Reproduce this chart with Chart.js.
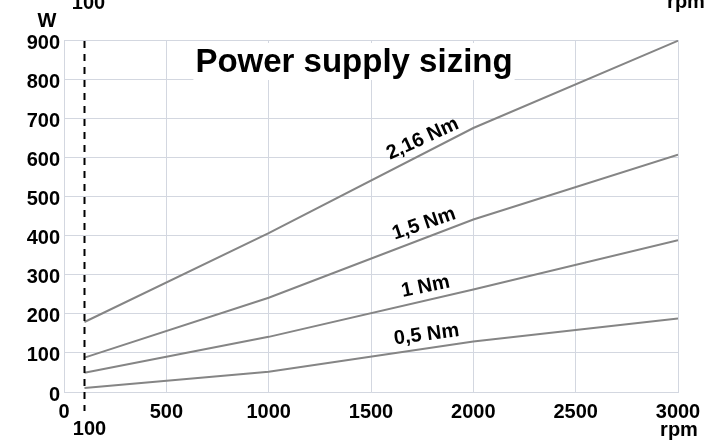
<!DOCTYPE html>
<html>
<head>
<meta charset="utf-8">
<script src="https://cdn.jsdelivr.net/npm/chart.js@4/dist/chart.umd.min.js"></script>
<style>
  html, body { margin: 0; padding: 0; background: #fff; }
  #wrap { width: 706px; height: 440px; position: relative; }
</style>
</head>
<body>
<div id="wrap"><canvas id="myChart" width="706" height="440"></canvas></div>
<script>
// speed points (rpm) shared by every curve
const speeds = [100, 1000, 2000, 3000];
// power (W)
const p216 = [179, 406, 675, 898];
const p15 = [88, 241, 441, 607];
const p1 = [49, 141, 262, 388];
const p05 = [10, 52, 129, 188];
const curveNames = ['2,16 Nm', '1,5 Nm', '1 Nm', '0,5 Nm'];
const xTicks = [0, 500, 1000, 1500, 2000, 2500, 3000];
const yTicks = [0, 100, 200, 300, 400, 500, 600, 700, 800, 900];
const minSpeed = 100;

const FONT = 'Liberation Sans, Arial, sans-serif';
const lineColor = '#858585';
const gridColor = '#d3d7e0';

function pts(vals) {
  return speeds.map((s, i) => ({ x: s, y: vals[i] }));
}

const series = [p216, p15, p1, p05];

// text, dashed line and curve labels
const decorations = {
  id: 'decorations',
  afterDatasetsDraw(chart) {
    const ctx = chart.ctx;
    const xs = chart.scales.x;
    const ys = chart.scales.y;
    const area = chart.chartArea;
    ctx.save();

    // dashed line at minimum speed
    const dx = Math.round(xs.getPixelForValue(minSpeed)) + 0.5;
    ctx.strokeStyle = '#000';
    ctx.lineWidth = 2;
    ctx.setLineDash([7, 6]);
    ctx.beginPath();
    ctx.moveTo(dx, area.top + 1);
    ctx.lineTo(dx, area.bottom + 19);
    ctx.stroke();
    ctx.setLineDash([]);

    ctx.fillStyle = '#000';
    ctx.font = 'bold 20px ' + FONT;
    ctx.textAlign = 'center';
    ctx.textBaseline = 'alphabetic';
    ctx.fillText('100', dx + 5, 435);
    ctx.fillText('100', dx + 4, 9);
    ctx.fillText('rpm', xs.getPixelForValue(3000) + 1, 436);
    ctx.fillText('rpm', 686, 8);
    ctx.fillText('W', 47, 27);

    // title with white box behind
    ctx.font = 'bold 33px ' + FONT;
    const title = 'Power supply sizing';
    const tw = ctx.measureText(title).width;
    const cx = 354;
    ctx.fillStyle = '#fff';
    ctx.fillRect(cx - tw / 2 - 2, area.top + 3, tw + 4, 37);
    ctx.fillStyle = '#000';
    ctx.fillText(title, cx, 72);

    // curve labels along each line
    ctx.font = 'bold 20px ' + FONT;
    const at = 1780;
    series.forEach((vals, k) => {
      const x1 = xs.getPixelForValue(speeds[1]), y1 = ys.getPixelForValue(vals[1]);
      const x2 = xs.getPixelForValue(speeds[2]), y2 = ys.getPixelForValue(vals[2]);
      const ang = Math.atan2(y2 - y1, x2 - x1) * 0.9;
      const px = xs.getPixelForValue(at);
      const py = y1 + (y2 - y1) * (px - x1) / (x2 - x1);
      ctx.save();
      ctx.translate(px, py);
      ctx.rotate(ang);
      ctx.fillText(curveNames[k], 0, -8);
      ctx.restore();
    });
    ctx.restore();
  }
};

new Chart(document.getElementById('myChart'), {
  type: 'line',
  data: {
    datasets: series.map((vals, k) => ({
      label: curveNames[k],
      data: pts(vals),
      borderColor: lineColor,
      borderWidth: 2,
      pointRadius: 0,
      tension: 0,
      fill: false
    }))
  },
  options: {
    responsive: false,
    animation: false,
    layout: { padding: { left: 0, right: 28, top: 40, bottom: 0 } },
    plugins: { legend: { display: false }, tooltip: { enabled: false } },
    scales: {
      x: {
        type: 'linear',
        min: 0,
        max: 3000,
        afterBuildTicks: s => { s.ticks = xTicks.map(v => ({ value: v })); },
        afterFit: s => { s.height = 48; s.paddingLeft = 0; s.paddingRight = 0; },
        grid: { color: gridColor, drawTicks: false },
        border: { color: gridColor },
        ticks: {
          padding: 8,
          color: '#000',
          maxRotation: 0,
          callback: v => String(v),
          font: { family: FONT, size: 20, weight: 'bold' }
        }
      },
      y: {
        min: 0,
        max: 900,
        afterBuildTicks: s => { s.ticks = yTicks.map(v => ({ value: v })); },
        afterFit: s => { s.width = 64; s.paddingTop = 0; s.paddingBottom = 0; },
        grid: { color: gridColor, drawTicks: false },
        border: { color: gridColor },
        ticks: {
          padding: 4,
          labelOffset: 3,
          color: '#000',
          callback: v => String(v),
          font: { family: FONT, size: 20, weight: 'bold' }
        }
      }
    }
  },
  plugins: [decorations]
});
</script>
</body>
</html>
